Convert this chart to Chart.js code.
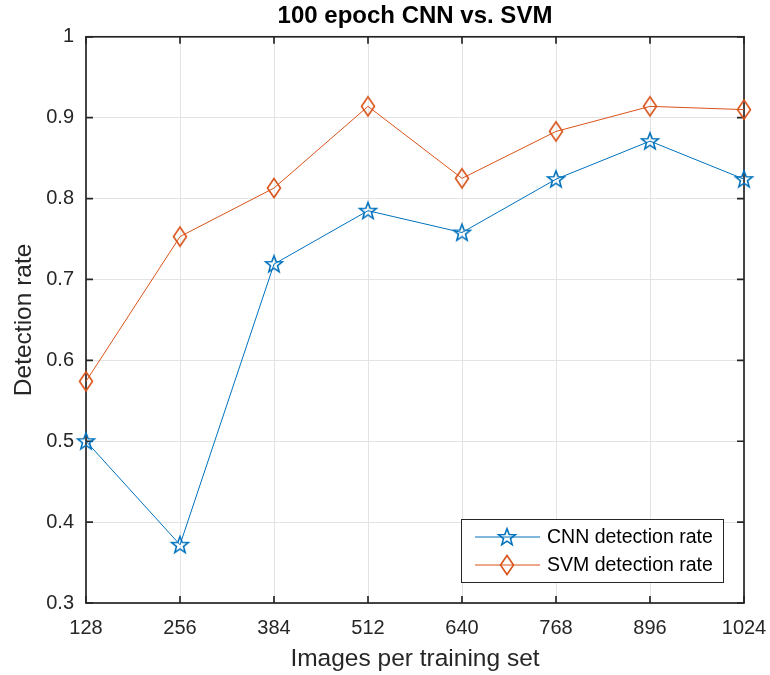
<!DOCTYPE html>
<html>
<head>
<meta charset="utf-8">
<script src="https://cdn.jsdelivr.net/npm/chart.js@4.4.1/dist/chart.umd.min.js"></script>
<style>
  html, body { margin: 0; padding: 0; background: #fff; }
  #wrap { width: 770px; height: 675px; }
</style>
</head>
<body>
<div id="wrap"><canvas id="myChart" width="770" height="675"></canvas></div>
<script>
// values
const trainingSizes = [128, 256, 384, 512, 640, 768, 896, 1024];
const cnnRate = [0.500, 0.372, 0.719, 0.785, 0.758, 0.824, 0.871, 0.824];
const svmRate = [0.574, 0.753, 0.813, 0.914, 0.825, 0.883, 0.914, 0.910];
const yTicks = [0.3, 0.4, 0.5, 0.6, 0.7, 0.8, 0.9, 1];
const seriesLabels = ['CNN detection rate', 'SVM detection rate'];

const FONT = '"Liberation Sans", Arial, Helvetica, sans-serif';
const BLUE = '#0072BD';
const ORANGE = '#D95319';
const AXIS = '#262626';

// hollow marker images (MATLAB style)
function makeStar(color) {
  const c = document.createElement('canvas');
  c.width = 22; c.height = 22;
  const g = c.getContext('2d');
  g.beginPath();
  for (let i = 0; i < 10; i++) {
    const r = i % 2 ? 3.7 : 8.8;
    const a = -Math.PI / 2 + i * Math.PI / 5;
    g.lineTo(11 + r * Math.cos(a), 11.5 + r * Math.sin(a));
  }
  g.closePath();
  g.strokeStyle = color;
  g.lineWidth = 1.6;
  g.stroke();
  return c;
}

function makeDiamond(color) {
  const c = document.createElement('canvas');
  c.width = 18; c.height = 24;
  const g = c.getContext('2d');
  g.beginPath();
  g.moveTo(9, 2.5);
  g.lineTo(15.5, 12);
  g.lineTo(9, 21.5);
  g.lineTo(2.5, 12);
  g.closePath();
  g.strokeStyle = color;
  g.lineWidth = 1.6;
  g.stroke();
  return c;
}

const starImg = makeStar(BLUE);
const diamondImg = makeDiamond(ORANGE);

// center the title over the plot area, like MATLAB does
const titleCenter = {
  id: 'titleCenter',
  afterLayout(chart) {
    const t = chart.titleBlock;
    if (t) {
      t.left = chart.chartArea.left;
      t.right = chart.chartArea.right;
      t.width = t.right - t.left;
    }
  }
};

// box with inward ticks on all four sides
const framePlugin = {
  id: 'frame',
  beforeDatasetsDraw(chart) {
    const { ctx, chartArea: a, scales } = chart;
    ctx.save();
    ctx.strokeStyle = AXIS;
    ctx.lineWidth = 1.7;
    ctx.strokeRect(a.left, a.top, a.right - a.left, a.bottom - a.top);
    ctx.beginPath();
    const tl = 7;
    yTicks.forEach(v => {
      const y = scales.y.getPixelForValue(v);
      ctx.moveTo(a.left, y); ctx.lineTo(a.left + tl, y);
      ctx.moveTo(a.right, y); ctx.lineTo(a.right - tl, y);
    });
    trainingSizes.forEach(v => {
      const x = scales.x.getPixelForValue(v);
      ctx.moveTo(x, a.bottom); ctx.lineTo(x, a.bottom - tl);
      ctx.moveTo(x, a.top); ctx.lineTo(x, a.top + tl);
    });
    ctx.stroke();
    ctx.restore();
  }
};

// legend box in the lower right corner
const legendPlugin = {
  id: 'boxLegend',
  afterDraw(chart) {
    const { ctx, chartArea: a } = chart;
    const w = 262, h = 63;
    const x0 = a.right - 21 - w;
    const y0 = a.bottom - 21 - h;
    ctx.save();
    ctx.fillStyle = '#fff';
    ctx.fillRect(x0, y0, w, h);
    ctx.strokeStyle = AXIS;
    ctx.lineWidth = 1;
    ctx.strokeRect(x0 + 0.5, y0 + 0.5, w, h);
    chart.data.datasets.forEach((ds, i) => {
      const y = y0 + 18 + i * 28;
      ctx.strokeStyle = ds.borderColor;
      ctx.lineWidth = 1;
      ctx.beginPath();
      ctx.moveTo(x0 + 14, y); ctx.lineTo(x0 + 79, y);
      ctx.stroke();
      const img = ds.pointStyle;
      ctx.drawImage(img, x0 + 46 - img.width / 2, y - img.height / 2);
      ctx.fillStyle = '#000';
      ctx.font = '19.5px ' + FONT;
      ctx.textBaseline = 'middle';
      ctx.textAlign = 'left';
      ctx.fillText(ds.label, x0 + 86, y + 1);
    });
    ctx.restore();
  }
};

const ctx = document.getElementById('myChart').getContext('2d');
new Chart(ctx, {
  type: 'line',
  data: {
    datasets: [
      {
        label: seriesLabels[0],
        data: trainingSizes.map((x, i) => ({ x, y: cnnRate[i] })),
        borderColor: BLUE,
        borderWidth: 1,
        pointStyle: starImg,
        clip: false,
        tension: 0
      },
      {
        label: seriesLabels[1],
        data: trainingSizes.map((x, i) => ({ x, y: svmRate[i] })),
        borderColor: ORANGE,
        borderWidth: 1,
        pointStyle: diamondImg,
        clip: false,
        tension: 0
      }
    ]
  },
  options: {
    responsive: false,
    animation: false,
    events: [],
    layout: { padding: { left: 0, right: 26, top: 0, bottom: 0 } },
    plugins: {
      legend: { display: false },
      tooltip: { enabled: false },
      title: {
        display: true,
        text: '100 epoch CNN vs. SVM',
        color: '#000',
        font: { family: FONT, size: 24, weight: 'bold', lineHeight: 1.2 },
        padding: { top: 2, bottom: 6 }
      }
    },
    scales: {
      x: {
        type: 'linear',
        min: 128,
        max: 1024,
        afterBuildTicks: s => { s.ticks = trainingSizes.map(v => ({ value: v })); },
        afterFit: s => { s.height = 72; s.paddingLeft = 0; s.paddingRight = 0; },
        grid: { color: '#e3e3e3', drawTicks: false },
        border: { display: false },
        ticks: {
          color: AXIS,
          padding: 13,
          maxRotation: 0,
          font: { family: FONT, size: 20 },
          callback: v => String(v)
        },
        title: {
          display: true,
          text: 'Images per training set',
          color: AXIS,
          font: { family: FONT, size: 24.5, lineHeight: 1.2 },
          padding: { top: 0, bottom: 1 }
        }
      },
      y: {
        min: 0.3,
        max: 1,
        afterBuildTicks: s => { s.ticks = yTicks.map(v => ({ value: v })); },
        afterFit: s => { s.width = 86; },
        grid: { color: '#e3e3e3', drawTicks: false },
        border: { display: false },
        ticks: {
          color: AXIS,
          padding: 12,
          font: { family: FONT, size: 20 },
          callback: v => String(Number(v.toFixed(1)))
        },
        title: {
          display: true,
          text: 'Detection rate',
          color: AXIS,
          font: { family: FONT, size: 24.5, lineHeight: 1.2 },
          padding: { top: 10, bottom: 0 }
        }
      }
    }
  },
  plugins: [titleCenter, framePlugin, legendPlugin]
});
</script>
</body>
</html>
